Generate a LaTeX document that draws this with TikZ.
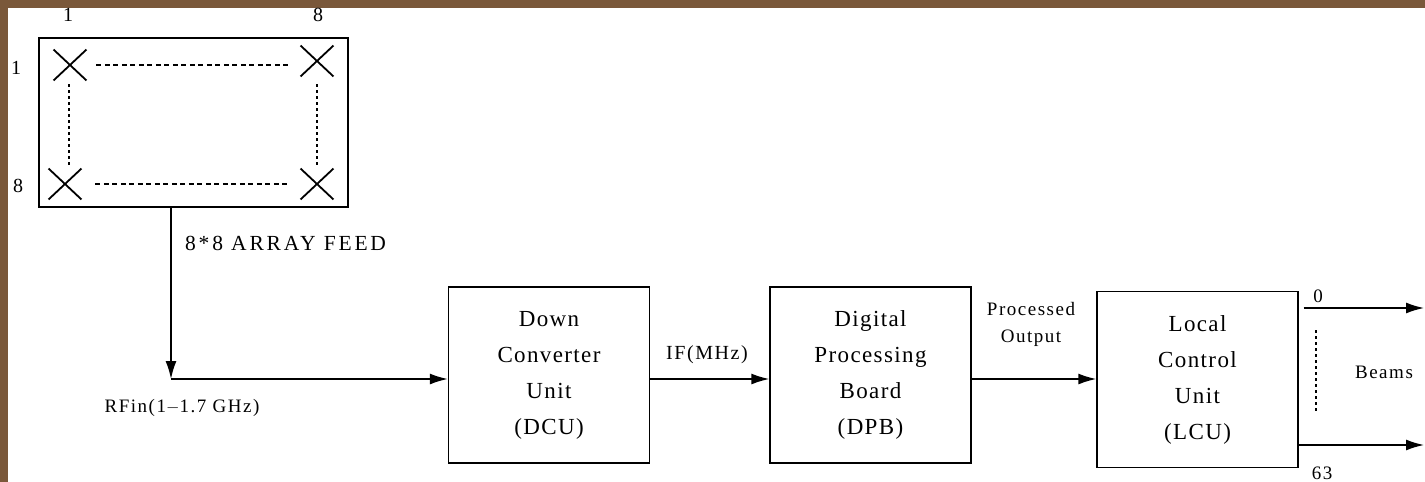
\documentclass[tikz,border=0pt]{standalone}
\usepackage{fontspec}
\setmainfont[LetterSpace=8]{Liberation Serif}
\newfontfamily\widefont[LetterSpace=13]{Liberation Serif}
\newfontfamily\boxfont[LetterSpace=6]{Liberation Serif}
\usetikzlibrary{shapes.misc,arrows.meta}
\definecolor{bgbrown}{RGB}{122,88,58}
\tikzset{
  blk/.style={draw, line width=1.4pt, minimum width=201pt, minimum height=176pt, align=center, inner sep=0pt,
    font=\boxfont\fontsize{23}{36}\selectfont},
  conn/.style={line width=1.5pt, -{Latex[length=18pt,width=11pt]}},
  xmark/.style={cross out, draw, line width=1.8pt, minimum width=31pt, minimum height=29pt, inner sep=0pt},
  lbl/.style={font=\fontsize{19}{22}\selectfont, inner sep=0pt},
  small/.style={font=\fontsize{19}{27}\selectfont, inner sep=0pt, align=center},
}
\begin{document}
\begin{tikzpicture}[x=1pt,y=-1pt]
\useasboundingbox (0,0) rectangle (1425,482);
\fill[bgbrown] (0,0) rectangle (1425,482);
\fill[white] (8,8) rectangle (1425,482);
% array feed
\node[draw, line width=1.4pt, minimum width=309pt, minimum height=169pt, inner sep=0pt] (arr) at (193.5,122.5) {};
\node[xmark] (x11) at (70,65) {};
\node[xmark] (x18) at (317,61) {};
\node[xmark] (x81) at (65,184) {};
\node[xmark] (x88) at (317,184) {};
\draw[dash pattern=on 5pt off 3.5pt, line width=1.1pt] (x11.east) ++(10,0) coordinate (t1) -- ([xshift=-12pt]x18.west |- t1);
\draw[dash pattern=on 5pt off 3.5pt, line width=1.1pt] (x81.east) ++(14,0) coordinate (t2) -- ([xshift=-12pt]x88.west |- t2);
\draw[dash pattern=on 3pt off 3pt, line width=1.3pt] (69,84) coordinate (v1) -- (69,166) coordinate (v2);
\draw[dash pattern=on 3pt off 3pt, line width=1.3pt] (317,84) coordinate (v3) -- (317,166) coordinate (v4);
\node[lbl, font=\fontsize{20}{22}\selectfont] (c1) at (68,15) {1};
\node[lbl, font=\fontsize{20}{22}\selectfont] (c8) at (318,15) {8};
\node[lbl, font=\fontsize{20}{22}\selectfont] (r1) at (16,68) {1};
\node[lbl, font=\fontsize{20}{22}\selectfont] (r8) at (18,186) {8};
\node[lbl, anchor=west, font=\widefont\fontsize{21.5}{24}\selectfont] (feedlbl) at (185,243) {8*8 ARRAY FEED};
% blocks
\node[blk] (dcu) at (549,375) {Down\\Converter\\Unit\\(DCU)};
\node[blk] (dpb) at (870.5,375) {Digital\\Processing\\Board\\(DPB)};
\node[blk] (lcu) at (1197.5,379.5) {Local\\Control\\Unit\\(LCU)};
% connectors
\coordinate (rf) at (171,379);
\draw[conn] (arr.south -| rf) -- (rf);
\draw[conn] (rf) -- (dcu.west |- rf);
\node[lbl] (rflbl) at (182,408) {RFin(1$-$1.7 GHz)};
\draw[conn] (dcu.east |- rf) -- (dpb.west |- rf);
\node[lbl, font=\fontsize{20}{24}\selectfont] (iflbl) at (707,355) {IF(MHz)};
\draw[conn] (dpb.east |- rf) -- (lcu.west |- rf);
\node[small] (polbl) at (1031,324) {Processed\\Output};
\coordinate (e0) at (1424,308);
\coordinate (e63) at (1424,445);
\draw[conn] ([xshift=5pt]lcu.east |- e0) -- (e0);
\draw[conn] (lcu.east |- e63) -- (e63);
\node[lbl] (b0) at (1318,296) {0};
\node[lbl] (b63) at (1322,473) {63};
\draw[dash pattern=on 3pt off 3pt, line width=1.3pt] (1316,330) coordinate (d1) -- (1316,413) coordinate (d2);
\node[small] (beams) at (1384,372) {Beams};
\end{tikzpicture}
\end{document}
